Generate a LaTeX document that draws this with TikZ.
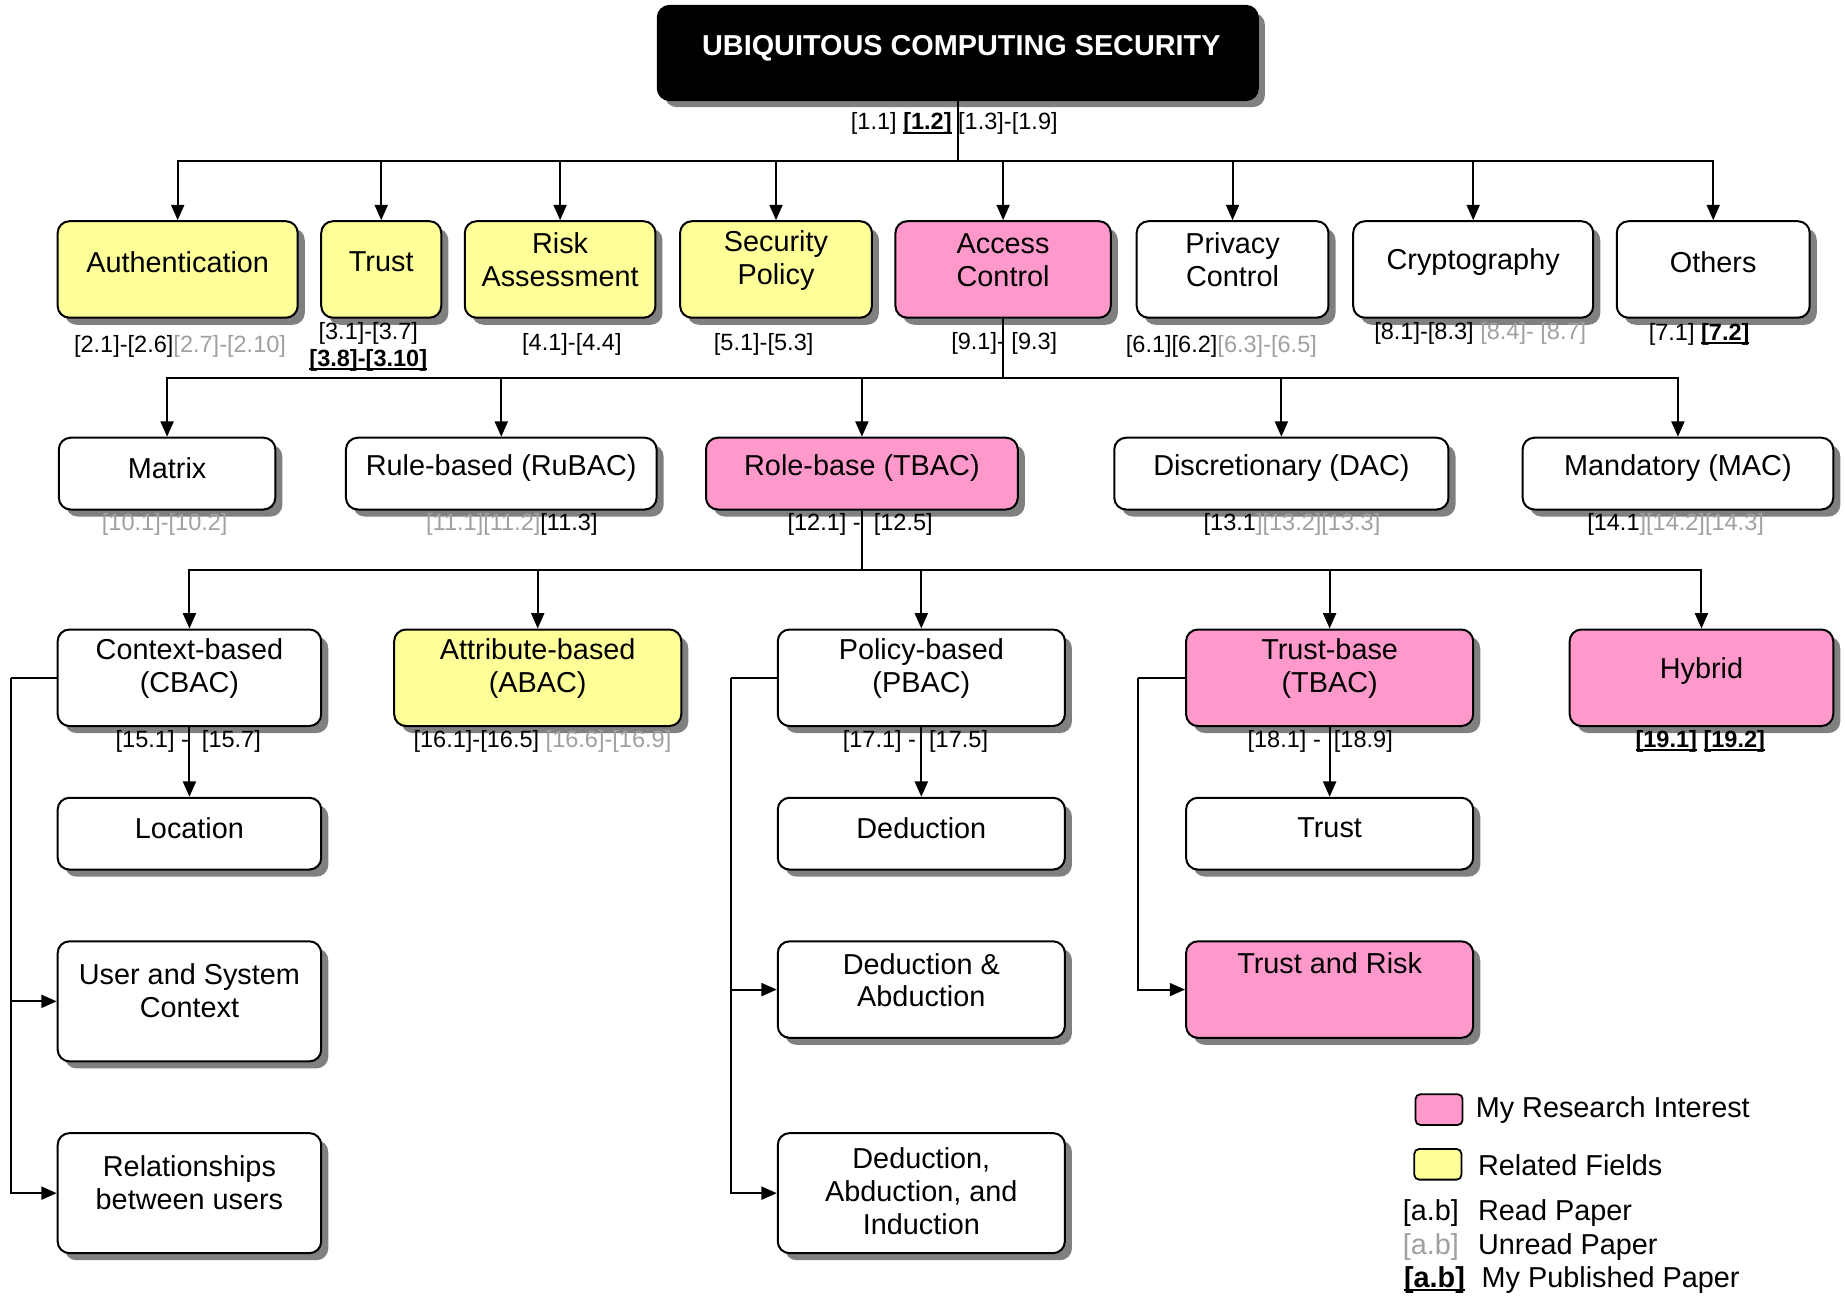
\documentclass[tikz,border=0pt]{standalone}
\usepackage{fontspec}
\setmainfont{Liberation Sans}
\usetikzlibrary{shadows,arrows.meta}
\definecolor{yel}{HTML}{FFFF99}
\definecolor{pnk}{HTML}{FF99CC}
\definecolor{ugray}{HTML}{A0A0A0}
\definecolor{shd}{HTML}{808080}
\newcommand\pub[1]{\setbox0\hbox{\bfseries #1}\rlap{\rule[-3.4pt]{\wd0}{1.8pt}}\box0\relax}
\newcommand\ur[1]{\textcolor{ugray}{#1}}
\begin{document}
\begin{tikzpicture}[x=1pt,y=-1pt,
  box/.style={draw=black, line width=1.7pt, rounded corners=10pt, fill=white, inner sep=0pt,
    drop shadow={shadow xshift=6pt, shadow yshift=-6pt, fill=shd, opacity=1}},
  txt/.style={align=center, font=\fontsize{24.5}{28}\selectfont, inner sep=0pt},
  ref/.style={align=center, font=\fontsize{20}{23}\selectfont, inner sep=0pt},
  arr/.style={line width=1.7pt, -{Triangle[length=13pt,width=11pt]}},
  ln/.style={line width=1.7pt},
  lgbox/.style={draw=black, line width=1.5pt, rounded corners=4pt, minimum width=40pt, minimum height=26pt, inner sep=0pt},
]
\fill[white] (0,0) rectangle (1568,1101);
\useasboundingbox (0,0) rectangle (1568,1101);

% ---------- title ----------
\node[box, fill=black, minimum width=510pt, minimum height=80pt] (top) at (814,45) {};
\node[txt, text=white, font=\fontsize{24.5}{28}\selectfont\bfseries] (top-t) at (817,41) {UBIQUITOUS COMPUTING SECURITY};
\node[ref] (top-r) at (811,105) {[1.1] \pub{[1.2]} [1.3]-[1.9]};

% ---------- row 1 ----------
\node[box, fill=yel, minimum width=204pt, minimum height=82pt] (auth) at (151,229) {};
\node[box, fill=yel, minimum width=102pt, minimum height=82pt] (trust) at (324,229) {};
\node[box, fill=yel, minimum width=162pt, minimum height=82pt] (risk) at (476,229) {};
\node[box, fill=yel, minimum width=163pt, minimum height=82pt] (sec) at (659.5,229) {};
\node[box, fill=pnk, minimum width=183pt, minimum height=82pt] (ac) at (852.5,229) {};
\node[box, minimum width=163pt, minimum height=82pt] (priv) at (1047.5,229) {};
\node[box, minimum width=204pt, minimum height=82pt] (cry) at (1252,229) {};
\node[box, minimum width=164pt, minimum height=82pt] (oth) at (1456,229) {};

\node[txt] (auth-t) at (151,222.5) {Authentication};
\node[txt] (trust-t) at (324,222.5) {Trust};
\node[txt] (risk-t) at (476,221) {Risk\\Assessment};
\node[txt] (sec-t) at (659.5,221.5) {Security\\Policy};
\node[txt] (ac-t) at (852.5,221) {Access\\Control};
\node[txt] (priv-t) at (1047.5,221) {Privacy\\Control};
\node[txt] (cry-t) at (1252,223) {Cryptography};
\node[txt] (oth-t) at (1456,222.5) {Others};

\node[ref] (auth-r) at (153,294) {[2.1]-[2.6]\ur{[2.7]-[2.10]}};
\node[ref] (trust-r) at (313,294.5) {[3.1]-[3.7]\\\pub{[3.8]-[3.10]}};
\node[ref] (risk-r) at (486,293) {[4.1]-[4.4]};
\node[ref] (sec-r) at (649,293) {[5.1]-[5.3]};
\node[ref] (ac-r) at (853.5,292) {[9.1]- [9.3]};
\node[ref] (priv-r) at (1038,294) {[6.1][6.2]\ur{[6.3]-[6.5]}};
\node[ref] (cry-r) at (1258,283) {[8.1]-[8.3] \ur{[8.4]- [8.7]}};
\node[ref] (oth-r) at (1444,284) {[7.1] \pub{[7.2]}};

% ---------- row 2 ----------
\node[box, minimum width=184pt, minimum height=61pt] (mat) at (142,402.5) {};
\node[box, minimum width=264pt, minimum height=61pt] (rub) at (426,402.5) {};
\node[box, fill=pnk, minimum width=265pt, minimum height=61pt] (role) at (732.5,402.5) {};
\node[box, minimum width=284pt, minimum height=61pt] (dac) at (1089,402.5) {};
\node[box, minimum width=264pt, minimum height=61pt] (mac) at (1426,402.5) {};

\node[txt] (mat-t) at (142,398) {Matrix};
\node[txt] (rub-t) at (426,398) {Rule-based (RuBAC)};
\node[txt] (role-t) at (732.5,398) {Role-base (TBAC)};
\node[txt] (dac-t) at (1089,398) {Discretionary (DAC)};
\node[txt] (mac-t) at (1426,398) {Mandatory (MAC)};

\node[ref] (mat-r) at (140,446) {\ur{[10.1]-[10.2]}};
\node[ref] (rub-r) at (435,446) {\ur{[11.1][11.2]}[11.3]};
\node[ref] (role-r) at (731,446) {[12.1] - \ [12.5]};
\node[ref] (dac-r) at (1098,446) {[13.1\ur{][13.2][13.3]}};
\node[ref] (mac-r) at (1424,446) {[14.1\ur{][14.2][14.3]}};

% ---------- row 3 ----------
\node[box, minimum width=224pt, minimum height=82pt] (cbac) at (161,576) {};
\node[box, fill=yel, minimum width=244pt, minimum height=82pt] (abac) at (457,576) {};
\node[box, minimum width=244pt, minimum height=82pt] (pbac) at (783,576) {};
\node[box, fill=pnk, minimum width=244pt, minimum height=82pt] (tbac) at (1130,576) {};
\node[box, fill=pnk, minimum width=224pt, minimum height=82pt] (hyb) at (1446,576) {};

\node[txt] (cbac-t) at (161,568.5) {Context-based\\(CBAC)};
\node[txt] (abac-t) at (457,568.5) {Attribute-based\\(ABAC)};
\node[txt] (pbac-t) at (783,568.5) {Policy-based\\(PBAC)};
\node[txt] (tbac-t) at (1130,568.5) {Trust-base\\(TBAC)};
\node[txt] (hyb-t) at (1446,570) {Hybrid};

\node[ref] (cbac-r) at (160,630) {[15.1] - \ [15.7]};
\node[ref] (abac-r) at (461,630) {[16.1]-[16.5] \ur{[16.6]-[16.9]}};
\node[ref] (pbac-r) at (778,630) {[17.1] - \ [17.5]};
\node[ref] (tbac-r) at (1122,630) {[18.1] - \ [18.9]};
\node[ref] (hyb-r) at (1445,630) {\pub{[19.1]} \pub{[19.2]}};

% ---------- rows 4-6 ----------
\node[box, minimum width=224pt, minimum height=61pt] (loc) at (161,708.5) {};
\node[box, minimum width=244pt, minimum height=61pt] (ded) at (783,708.5) {};
\node[box, minimum width=244pt, minimum height=61pt] (trs) at (1130,708.5) {};
\node[txt] (loc-t) at (161,703.5) {Location};
\node[txt] (ded-t) at (783,703.5) {Deduction};
\node[txt] (trs-t) at (1130,703.5) {Trust};

\node[box, minimum width=224pt, minimum height=102pt] (usc) at (161,851) {};
\node[box, minimum width=244pt, minimum height=82pt] (dab) at (783,841) {};
\node[box, fill=pnk, minimum width=244pt, minimum height=82pt] (trr) at (1130,841) {};
\node[txt] (usc-t) at (161,842) {User and System\\Context};
\node[txt] (dab-t) at (783,833) {Deduction \&\\Abduction};
\node[txt] (trr-t) at (1130,818.5) {Trust and Risk};

\node[box, minimum width=224pt, minimum height=102pt] (rel) at (161,1014) {};
\node[box, minimum width=244pt, minimum height=102pt] (dai) at (783,1014) {};
\node[txt] (rel-t) at (161,1005) {Relationships\\between users};
\node[txt] (dai-t) at (783,1012) {Deduction,\\Abduction, and\\Induction};

% ---------- connectors ----------
\coordinate (b1) at (814,137);
\draw[ln] (top.south) -- (b1);
\foreach \n in {auth,trust,risk,sec,ac,priv,cry,oth} {\draw[arr] (b1) -| (\n.north);}

\coordinate (b2) at (852.5,321);
\draw[ln] (ac.south) -- (b2);
\foreach \n in {mat,rub,role,dac,mac} {\draw[arr] (b2) -| (\n.north);}

\coordinate (b3) at (732.5,484);
\draw[ln] (role.south) -- (b3);
\foreach \n in {cbac,abac,pbac,tbac,hyb} {\draw[arr] (b3) -| (\n.north);}

\draw[arr] (cbac.south) -- (loc.north);
\draw[arr] (pbac.south) -- (ded.north);
\draw[arr] (tbac.south) -- (trs.north);

\coordinate (ca) at (9,576);
\draw[ln] (cbac.west) -- (ca);
\draw[arr] (ca) |- (usc.west);
\draw[arr] (ca) |- (rel.west);

\coordinate (pa) at (621,576);
\draw[ln] (pbac.west) -- (pa);
\draw[arr] (pa) |- (dab.west);
\draw[arr] (pa) |- (dai.west);

\coordinate (ta) at (967,576);
\draw[ln] (tbac.west) -- (ta);
\draw[arr] (ta) |- (trr.west);

% ---------- legend ----------
\node[lgbox, fill=pnk] (lg1) at (1223,943) {};
\node[txt, anchor=west] (lg1-t) at (1254,943.5) {My Research Interest};
\node[lgbox, fill=yel] (lg2) at (1222,989.5) {};
\node[txt, anchor=west] (lg2-t) at (1256,990.5) {Related Fields};
\node[txt, anchor=west] (lg3) at (1192,1030.5) {[a.b]};
\node[txt, anchor=west] (lg3-t) at (1256,1030.5) {Read Paper};
\node[txt, anchor=west, text=ugray] (lg4) at (1192,1059.5) {[a.b]};
\node[txt, anchor=west] (lg4-t) at (1256,1059.5) {Unread Paper};
\node[txt, anchor=west] (lg5) at (1193,1087.5) {\pub{[a.b]}};
\node[txt, anchor=west] (lg5-t) at (1259,1087.5) {My Published Paper};
\end{tikzpicture}
\end{document}
